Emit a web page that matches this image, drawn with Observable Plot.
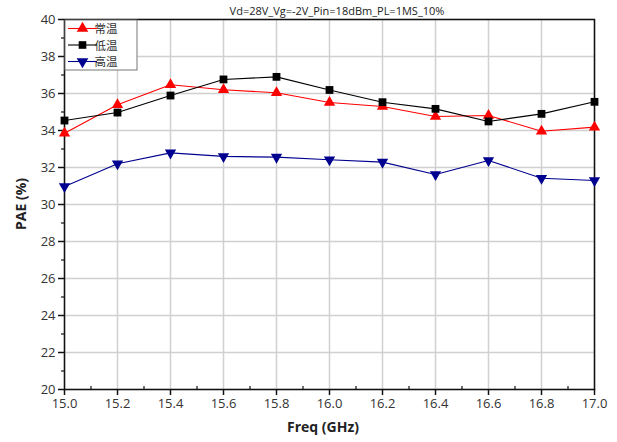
<!DOCTYPE html>
<html>
<head>
<meta charset="utf-8">
<script src="https://cdn.jsdelivr.net/npm/d3@7"></script>
<script src="https://cdn.jsdelivr.net/npm/@observablehq/plot@0.6"></script>
<style>
  html, body { margin: 0; padding: 0; background: #fff; }
  #chart { position: relative; width: 617px; height: 442px; }
</style>
</head>
<body>
<div id="chart"></div>
<script>
const freq = [15.0, 15.2, 15.4, 15.6, 15.8, 16.0, 16.2, 16.4, 16.6, 16.8, 17.0];
const paeNormal = [33.85, 35.39, 36.47, 36.2, 36.04, 35.51, 35.3, 34.76, 34.81, 33.96, 34.18];
const paeLow    = [34.54, 34.97, 35.89, 36.76, 36.9, 36.19, 35.53, 35.17, 34.49, 34.9, 35.55];
const paeHigh   = [30.97, 32.2, 32.79, 32.6, 32.56, 32.42, 32.29, 31.62, 32.38, 31.42, 31.3];
const seriesNames = ["常温", "低温", "高温"];
const seriesColors = ["#ff0000", "#000000", "#000090"];
const titleText = "Vd=28V_Vg=-2V_Pin=18dBm_PL=1MS_10%";
const xLabel = "Freq (GHz)";
const yLabel = "PAE (%)";
const xMajor = d3.range(0, 11).map(i => +(15 + i * 0.2).toFixed(1));
const xMinor = d3.range(0, 10).map(i => +(15.1 + i * 0.2).toFixed(1));
const yMajor = d3.range(20, 41, 2);
const yMinor = d3.range(21, 40, 2);

const rows = [];
[paeNormal, paeLow, paeHigh].forEach((arr, s) => {
  arr.forEach((v, i) => rows.push({series: seriesNames[s], freq: freq[i], pae: v}));
});

const font = "'Open Sans', 'DejaVu Sans', sans-serif";
const margin = {top: 19, right: 23, bottom: 53, left: 64};

const plot = Plot.plot({
  width: 617,
  height: 442,
  marginTop: margin.top,
  marginRight: margin.right,
  marginBottom: margin.bottom,
  marginLeft: margin.left,
  style: {fontFamily: font, fontSize: "13px", color: "#333", background: "#fff"},
  x: {domain: [15, 17]},
  y: {domain: [20, 40]},
  color: {domain: seriesNames, range: seriesColors},
  marks: [
    Plot.gridX(xMajor, {stroke: "#d0d0d0", strokeOpacity: 1, strokeWidth: 1.5}),
    Plot.gridY(yMajor, {stroke: "#d0d0d0", strokeOpacity: 1, strokeWidth: 1.5}),
    Plot.frame({stroke: "#111", strokeWidth: 1.5}),
    Plot.axisX({ticks: xMajor, tickSize: 6, tickPadding: 3, tickFormat: d => d.toFixed(1), label: null, fill: "#333", stroke: "#111", strokeWidth: 1.5}),
    Plot.axisX({ticks: xMinor, tickSize: 3, dy: -3, tickFormat: null, text: null, label: null, stroke: "#111", strokeWidth: 1.2}),
    Plot.axisY({ticks: yMajor, tickSize: 6, tickPadding: 3, label: null, fill: "#333", stroke: "#111", strokeWidth: 1.5}),
    Plot.axisY({ticks: yMinor, tickSize: 3, text: null, label: null, stroke: "#111", strokeWidth: 1.2}),
    Plot.line(rows, {x: "freq", y: "pae", z: "series", stroke: "series", strokeWidth: 1.1}),
    Plot.dot(rows.filter(d => d.series === seriesNames[0]), {x: "freq", y: "pae", symbol: "triangle", r: 4.2, fill: seriesColors[0], stroke: "none"}),
    Plot.dot(rows.filter(d => d.series === seriesNames[1]), {x: "freq", y: "pae", symbol: "square", r: 4.4, fill: seriesColors[1], stroke: "none"}),
    Plot.dot(rows.filter(d => d.series === seriesNames[2]), {x: "freq", y: "pae", symbol: "triangle", rotate: 180, r: 4.2, fill: seriesColors[2], stroke: "none"})
  ]
});

document.getElementById("chart").appendChild(plot);

// Title, axis labels, legend drawn into the SVG
const svg = d3.select(plot);
const cx = (margin.left + 617 - margin.right) / 2;
svg.append("text").attr("x", cx + 8).attr("y", 15).attr("text-anchor", "middle")
  .attr("font-family", font).attr("font-size", 11).attr("fill", "#222").text(titleText);
svg.append("text").attr("x", cx - 6).attr("y", 432).attr("text-anchor", "middle")
  .attr("font-family", font).attr("font-size", 14).attr("font-weight", "bold").attr("fill", "#222").text(xLabel);
svg.append("text").attr("transform", `translate(26,${(margin.top + 442 - margin.bottom) / 2}) rotate(-90)`)
  .attr("text-anchor", "middle").attr("font-family", font).attr("font-size", 14).attr("font-weight", "bold").attr("fill", "#222").text(yLabel);

const lg = svg.append("g").attr("transform", `translate(${margin.left + 1},${margin.top + 1})`);
lg.append("rect").attr("x", 0).attr("y", 0).attr("width", 72).attr("height", 50)
  .attr("fill", "#fff").attr("stroke", "#777").attr("stroke-width", 1);
const symbols = [d3.symbolTriangle, d3.symbolSquare, d3.symbolTriangle];
const rots = [0, 0, 180];
seriesNames.forEach((name, i) => {
  const yy = 8.5 + i * 16.5;
  lg.append("line").attr("x1", 3).attr("x2", 32).attr("y1", yy).attr("y2", yy)
    .attr("stroke", seriesColors[i]).attr("stroke-width", 1.1);
  lg.append("path").attr("d", d3.symbol(symbols[i], Math.PI * 4.3 * 4.3)())
    .attr("transform", `translate(17.5,${yy}) rotate(${rots[i]})`).attr("fill", seriesColors[i]);
  lg.append("text").attr("x", 41).attr("y", yy + 4.5).attr("font-family", "'Noto Sans CJK SC', sans-serif")
    .attr("font-size", 11.5).attr("fill", "#333").text(name);
});
</script>
</body>
</html>
